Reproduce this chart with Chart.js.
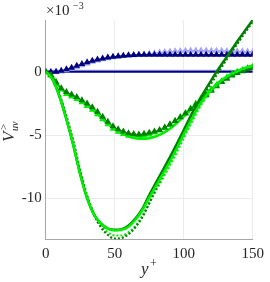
<!DOCTYPE html>
<html>
<head>
<meta charset="utf-8">
<script src="https://cdn.jsdelivr.net/npm/chart.js@4/dist/chart.umd.min.js"></script>
<style>
  html, body { margin: 0; padding: 0; background: #fff; }
</style>
</head>
<body>
<canvas id="chart" width="270" height="282"></canvas>
<script>
// y+ positions
const xLine = [0, 5, 10, 15, 20, 25, 30, 35, 40, 45, 50, 55, 60, 65, 70, 75, 80, 85, 90, 95, 100,
  105, 110, 115, 120, 125, 130, 135, 140, 145, 150];
const xMark = [0, 3.75, 7.5, 11.25, 15, 18.75, 22.5, 26.25, 30, 33.75, 37.5, 41.25, 45, 48.75,
  52.5, 56.25, 60, 63.75, 67.5, 71.25, 75, 78.75, 82.5, 86.25, 90, 93.75, 97.5, 101.25, 105,
  108.75, 112.5, 116.25, 120, 123.75, 127.5, 131.25, 135, 138.75, 142.5, 146.25, 150];

// values in units of 1e-3
const blueLine = xLine.map(() => 0);
const blueTri = [0, -0.02, 0.0, 0.08, 0.2, 0.33, 0.48, 0.62, 0.75, 0.88, 0.98, 1.06, 1.13, 1.19,
  1.24, 1.28, 1.31, 1.33, 1.35, 1.36, 1.36, 1.36, 1.36, 1.36, 1.36, 1.36, 1.36, 1.36, 1.36, 1.36,
  1.36, 1.36, 1.36, 1.36, 1.36, 1.36, 1.36, 1.36, 1.36, 1.36, 1.36];
const lightTri = [0, -0.02, -0.02, 0.03, 0.12, 0.24, 0.38, 0.52, 0.66, 0.79, 0.9, 1.0, 1.08, 1.15,
  1.2, 1.25, 1.29, 1.32, 1.35, 1.38, 1.42, 1.47, 1.52, 1.56, 1.6, 1.63, 1.65, 1.67, 1.68, 1.68,
  1.68, 1.68, 1.67, 1.67, 1.66, 1.65, 1.64, 1.63, 1.62, 1.61, 1.6];

const darkSolid = [0, -0.6, -1.95, -3.75, -5.8, -8.1, -10.0, -11.3, -12.0, -12.4, -12.5, -12.45,
  -12.15, -11.6, -10.85, -9.75, -8.75, -7.75, -6.75, -5.7, -4.6, -3.5, -2.5, -1.55, -0.65, 0.2,
  1.0, 1.8, 2.6, 3.35, 4.1];
const darkDotted = [0, -0.55, -1.8, -3.5, -5.5, -7.8, -9.8, -11.3, -12.3, -12.9, -13.2, -13.15,
  -12.85, -12.3, -11.5, -10.4, -9.2, -8.1, -7.0, -5.95, -4.85, -3.75, -2.75, -1.8, -0.9, -0.05,
  0.8, 1.6, 2.4, 3.2, 3.95];
const brightSolid = [0, -0.6, -1.95, -3.75, -5.8, -8.1, -10.0, -11.3, -12.0, -12.4, -12.55, -12.5,
  -12.25, -11.7, -10.95, -9.95, -9.0, -8.05, -7.1, -6.05, -4.95, -3.9, -2.9, -2.05, -1.4, -0.85,
  -0.45, -0.15, 0.12, 0.33, 0.5];
const brightDotted = [0, -0.55, -1.85, -3.6, -5.6, -7.9, -9.85, -11.2, -12.15, -12.7, -12.95,
  -12.95, -12.7, -12.2, -11.4, -10.4, -9.4, -8.4, -7.4, -6.35, -5.25, -4.15, -3.1, -2.2, -1.5,
  -0.95, -0.5, -0.2, 0.08, 0.3, 0.48];

const shallowSolid = [0, -0.4, -1.2, -1.7, -2.0, -2.3, -2.65, -3.1, -3.6, -4.1, -4.5, -4.85, -5.1,
  -5.25, -5.3, -5.25, -5.1, -4.85, -4.5, -4.05, -3.55, -3.0, -2.45, -1.9, -1.4, -0.95, -0.55, -0.2,
  0.1, 0.3, 0.45];
const darkTri = [0, -0.25, -0.8, -1.3, -1.6, -1.8, -2.0, -2.25, -2.5, -2.8, -3.15, -3.55, -3.95,
  -4.3, -4.55, -4.72, -4.85, -4.92, -4.95, -4.9, -4.82, -4.72, -4.6, -4.4, -4.15, -3.9, -3.6, -3.3,
  -2.95, -2.6, -2.2, -1.85, -1.5, -1.15, -0.8, -0.55, -0.3, -0.1, 0.05, 0.2, 0.3];
const brightTri = [0, -0.3, -0.9, -1.4, -1.75, -1.95, -2.15, -2.4, -2.7, -3.0, -3.35, -3.75, -4.15,
  -4.5, -4.75, -4.92, -5.05, -5.1, -5.1, -5.05, -4.95, -4.8, -4.65, -4.45, -4.2, -3.9, -3.6, -3.25,
  -2.9, -2.5, -2.1, -1.75, -1.4, -1.05, -0.75, -0.45, -0.2, 0.0, 0.15, 0.3, 0.42];

const xTicks = [0, 50, 100, 150];
const yTicks = [-10, -5, 0];

const NAVY = '#00007f';
const LAVENDER = '#a5a5f5';
const DKGREEN = '#008000';
const LTGREEN = '#00ee00';

const pts = (xs, ys) => xs.map((x, i) => ({ x: x, y: ys[i] }));

function line(data, color, width, order, dash) {
    return {
        data: data, borderColor: color, backgroundColor: color, borderWidth: width,
        borderDash: dash || [], pointRadius: 0, cubicInterpolationMode: 'monotone', order: order
    };
}
function tri(data, color, order) {
    return {
        data: data, borderColor: color, backgroundColor: color, borderWidth: 1,
        pointStyle: 'triangle', pointRadius: 4, pointBorderWidth: 0,
        cubicInterpolationMode: 'monotone', order: order
    };
}

// extra labels: x10^-3, y-axis and x-axis titles
const textPlugin = {
    id: 'texts',
    afterDraw(chart) {
        const ctx = chart.ctx;
        ctx.save();
        ctx.fillStyle = '#262626';
        ctx.textBaseline = 'alphabetic';
        ctx.textAlign = 'left';
        ctx.font = '15px "Liberation Serif"';
        ctx.fillText('\u00d710', 46, 15);
        ctx.font = '10px "Liberation Serif"';
        ctx.fillText('\u22123', 73, 9);

        ctx.font = 'italic 17px "Liberation Serif"';
        ctx.fillText('y', 141, 274);
        ctx.font = '12px "Liberation Serif"';
        ctx.fillText('+', 150, 267);

        ctx.translate(14, 142);
        ctx.rotate(-Math.PI / 2);
        ctx.font = 'italic 17px "Liberation Serif"';
        ctx.fillText('V', 0, 0);
        ctx.font = '11px "Liberation Serif"';
        ctx.fillText('>', 12, -7);
        ctx.font = 'italic 10px "Liberation Serif"';
        ctx.fillText('uv', 11, 4);
        ctx.restore();
    }
};

const ctx = document.getElementById('chart').getContext('2d');
new Chart(ctx, {
    type: 'line',
    data: {
        datasets: [
            line(pts(xLine, brightSolid), LTGREEN, 2.5, 1),
            line(pts(xLine, darkSolid), DKGREEN, 2.5, 2),
            line(pts(xLine, darkDotted), DKGREEN, 2.2, 3, [2, 2]),
            line(pts(xLine, brightDotted), LTGREEN, 2.2, 4, [2, 2]),
            tri(pts(xMark, darkTri), DKGREEN, 5),
            tri(pts(xMark, brightTri), LTGREEN, 6),
            line(pts(xLine, shallowSolid), LTGREEN, 2.5, 7),
            tri(pts(xMark, blueTri), NAVY, 8),
            tri(pts(xMark, lightTri), LAVENDER, 9),
            line(pts(xLine, blueLine), NAVY, 2, 10),
            line(pts(xLine, blueLine.map(v => v + 0.08)), LAVENDER, 2, 11)
        ]
    },
    options: {
        responsive: false,
        animation: false,
        layout: { padding: { left: 0, top: 20, right: 11.7, bottom: 0 } },
        scales: {
            x: {
                type: 'linear', min: 0, max: 150,
                afterBuildTicks: s => { s.ticks = xTicks.map(v => ({ value: v })); },
                afterFit: s => { s.height = 42.7; },
                grid: { color: '#ebebeb', drawTicks: false },
                border: { color: '#a6a6a6', width: 1 },
                ticks: { padding: 6, color: '#262626', font: { family: 'Liberation Serif', size: 15 } }
            },
            y: {
                type: 'linear', min: -13.25, max: 4.1,
                afterBuildTicks: s => { s.ticks = yTicks.map(v => ({ value: v })); },
                afterFit: s => { s.width = 45.7; },
                grid: { color: '#ebebeb', drawTicks: false },
                border: { color: '#a6a6a6', width: 1 },
                ticks: {
                    padding: 4, color: '#262626', font: { family: 'Liberation Serif', size: 15 },
                    callback: v => String(v)
                }
            }
        },
        plugins: {
            legend: { display: false },
            tooltip: { enabled: false }
        }
    },
    plugins: [textPlugin]
});
</script>
</body>
</html>
